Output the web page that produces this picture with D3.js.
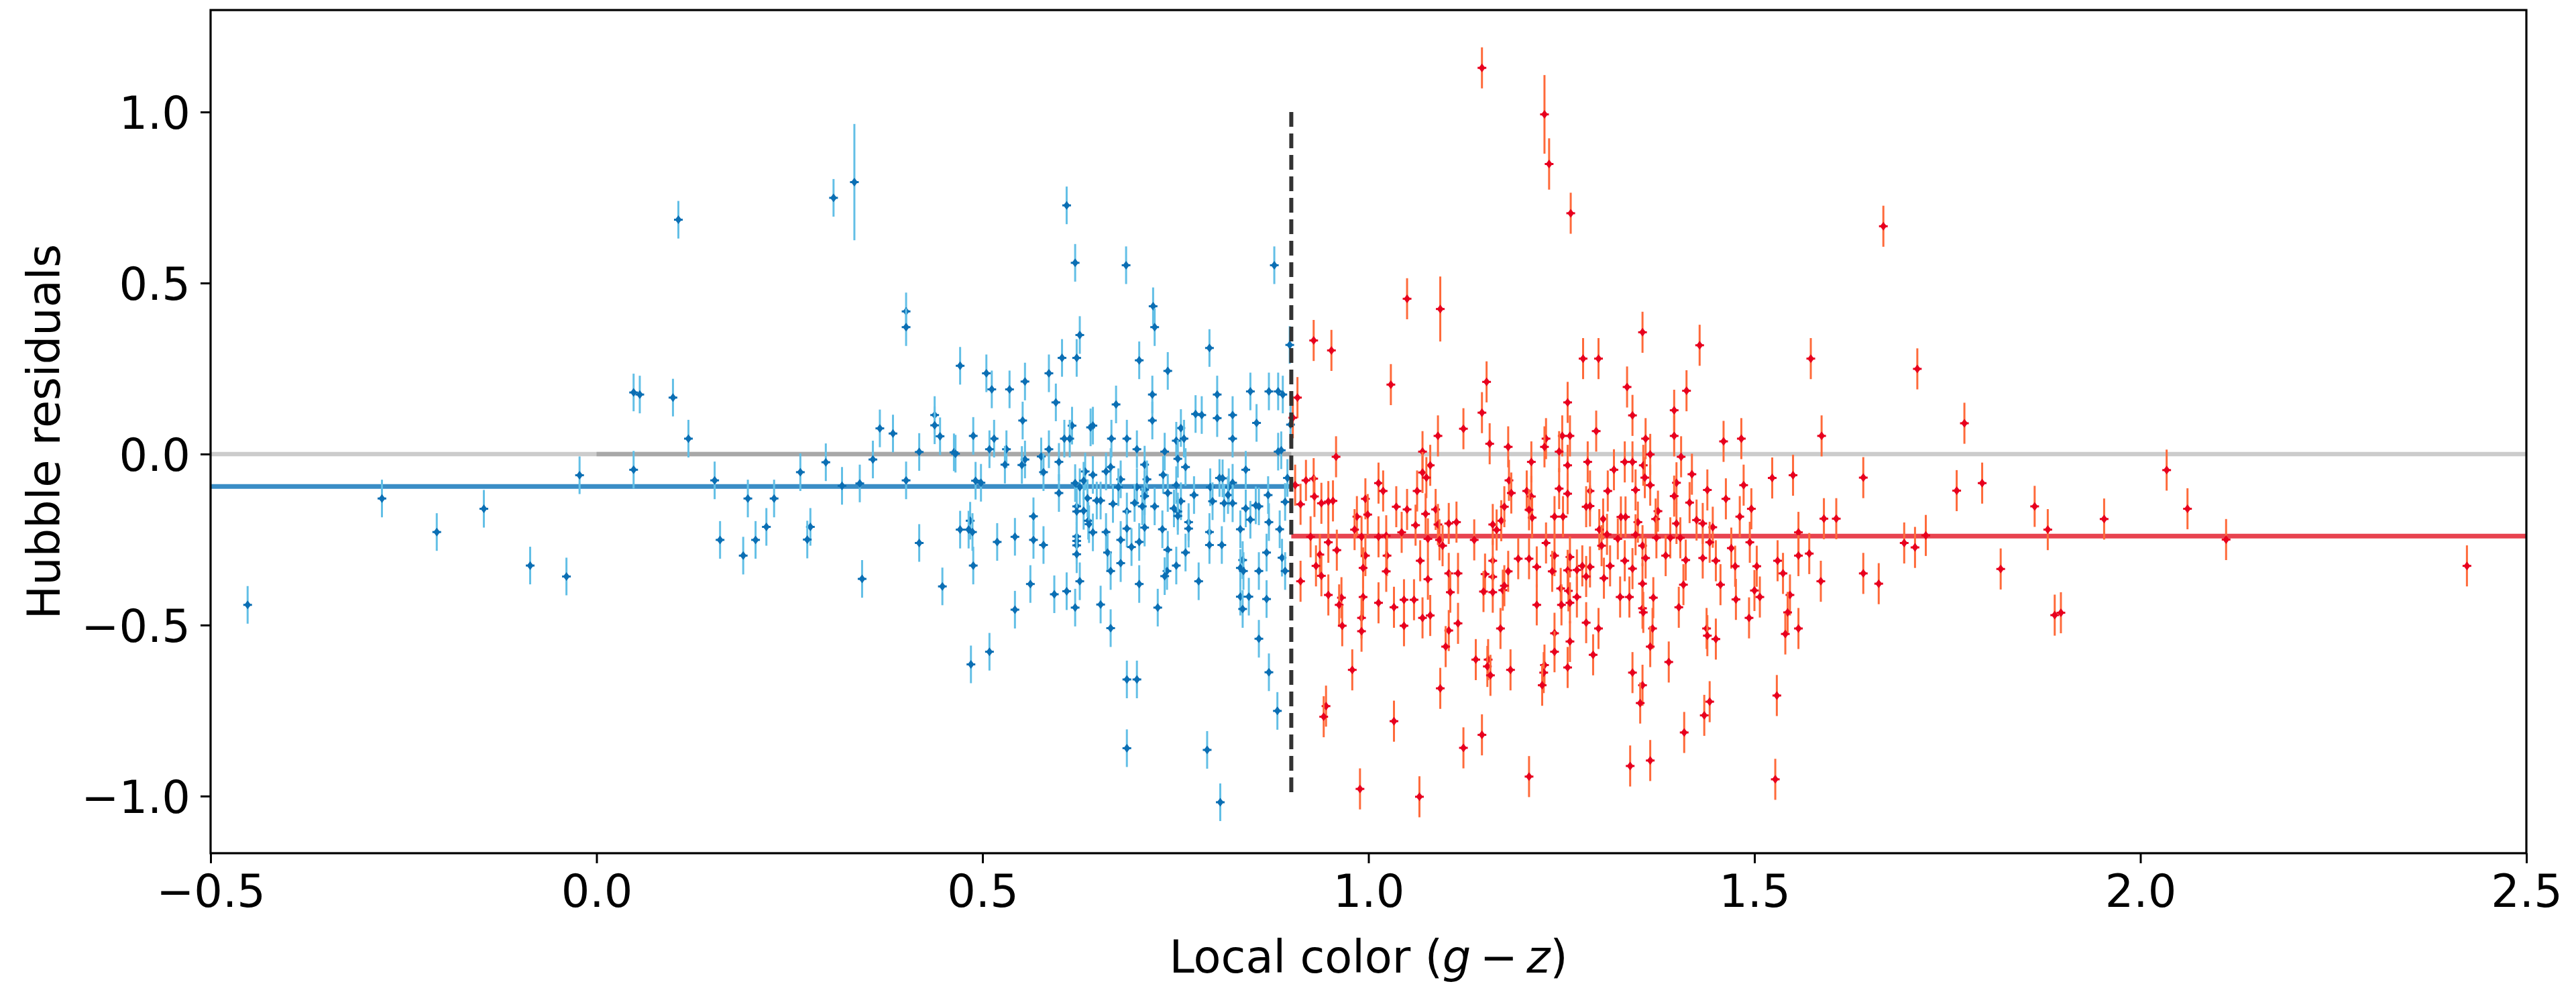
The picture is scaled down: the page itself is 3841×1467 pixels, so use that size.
<!DOCTYPE html>
<html>
<head>
<meta charset="utf-8">
<style>
  html, body { margin: 0; padding: 0; background: #fff; }
  text { font-family: "DejaVu Sans", sans-serif; fill: #000; }
</style>
</head>
<body>
<svg id="chart" width="3841" height="1467"></svg>
<script src="https://cdn.jsdelivr.net/npm/d3@7"></script>
<script>
// ---- data ----
// points are [x, y] or [x, y, yerr]
const bluePoints = [
  [-0.452,-0.441],[-0.278,-0.130],[-0.207,-0.228],[-0.146,-0.160],[-0.086,-0.326],[-0.039,-0.358],
  [-0.022,-0.062],[0.048,0.180],[0.056,0.174],[0.099,0.165],[0.119,0.045],[0.048,-0.046],
  [0.153,-0.077],[0.160,-0.251],[0.196,-0.130],[0.230,-0.130],[0.220,-0.213],[0.206,-0.251],
  [0.190,-0.297],[0.264,-0.053],[0.106,0.685],
  [0.277,-0.213],[0.273,-0.250],[0.297,-0.024],[0.318,-0.093],[0.341,-0.086],[0.358,-0.016],
  [0.344,-0.365],[0.367,0.075],[0.384,0.060],[0.401,-0.077],[0.418,0.006],[0.418,-0.260],
  [0.438,0.114],[0.438,0.084],[0.445,0.052],[0.448,-0.387],[0.463,0.005],[0.465,0.001],[0.471,-0.221],
  [0.307,0.749],[0.334,0.795,0.17],[0.609,0.727],[0.620,0.559],[0.686,0.552],[0.878,0.552],
  [0.401,0.417],[0.401,0.371],[0.721,0.432],[0.723,0.371],[0.626,0.348],[0.471,0.258],
  [0.794,0.310],[0.898,0.319],
  [0.687,-0.860],[0.791,-0.865],[0.808,-1.018],[0.882,-0.751],
  [0.505,0.236],[0.512,0.189],[0.535,0.189],[0.555,0.212],[0.603,0.281],[0.622,0.281],[0.586,0.236],
  [0.595,0.151],[0.552,0.098],[0.703,0.274],[0.740,0.243],[0.720,0.174],[0.720,0.098],[0.673,0.145],
  [0.804,0.174],[0.804,0.105],[0.847,0.183],[0.871,0.183],[0.883,0.183],[0.889,0.174],[0.824,0.114],
  [0.824,0.045],[0.855,0.091],[0.776,0.117],[0.784,0.114],[0.757,0.076],[0.761,0.045],[0.751,0.039],
  [0.899,0.086],[0.488,0.053],[0.515,0.045],[0.509,0.014],[0.531,0.014],[0.616,0.083],[0.640,0.078],
  [0.643,0.083],[0.606,0.045],[0.613,0.045],[0.667,0.045],[0.687,0.045],[0.700,0.014],[0.736,0.007],
  [0.586,0.014],[0.576,-0.007],[0.555,-0.016],[0.551,-0.032],[0.529,-0.031],[0.599,-0.023],[0.579,-0.053],
  [0.887,0.011],[0.883,0.007],[0.753,-0.014],[0.710,-0.031],[0.763,-0.038],[0.734,-0.061],[0.841,-0.046],
  [0.666,-0.038],[0.660,-0.051],[0.633,-0.051],[0.643,-0.061],[0.679,-0.074],[0.713,-0.074],[0.807,-0.070],
  [0.811,-0.071],[0.824,-0.084],[0.895,-0.070],[0.491,-0.078],[0.498,-0.084],[0.620,-0.085],[0.626,-0.097],
  [0.631,-0.078],[0.599,-0.114],[0.676,-0.097],[0.710,-0.104],[0.700,-0.097],[0.751,-0.091],[0.795,-0.097],
  [0.819,-0.097],[0.740,-0.114],[0.710,-0.123],[0.774,-0.120],[0.870,-0.120],[0.818,-0.120],[0.636,-0.129],
  [0.648,-0.136],[0.653,-0.136],[0.669,-0.146],[0.697,-0.143],[0.707,-0.153],[0.723,-0.153],[0.757,-0.138],
  [0.798,-0.138],[0.813,-0.144],[0.824,-0.144],[0.841,-0.159],[0.854,-0.150],[0.858,-0.153],[0.892,-0.140],
  [0.622,-0.153],[0.622,-0.168],[0.631,-0.166],[0.687,-0.168],[0.748,-0.159],[0.753,-0.168],[0.753,-0.181],
  [0.566,-0.182],[0.637,-0.195],[0.638,-0.205],[0.767,-0.199],[0.767,-0.218],[0.847,-0.192],[0.871,-0.199],
  [0.484,-0.195],[0.482,-0.221],[0.487,-0.228],[0.519,-0.257],[0.542,-0.242],[0.566,-0.251],[0.579,-0.266],
  [0.622,-0.241],[0.622,-0.254],[0.622,-0.267],[0.622,-0.293],[0.643,-0.229],[0.660,-0.228],[0.687,-0.218],
  [0.710,-0.215],[0.733,-0.220],[0.794,-0.228],[0.794,-0.266],[0.810,-0.266],[0.834,-0.220],[0.885,-0.220],
  [0.679,-0.251],[0.693,-0.272],[0.703,-0.257],[0.662,-0.288],[0.740,-0.280],[0.763,-0.288],[0.868,-0.288],
  [0.888,-0.303],[0.837,-0.310],[0.834,-0.333],[0.838,-0.342],[0.858,-0.342],[0.892,-0.342],[0.488,-0.326],
  [0.679,-0.319],[0.666,-0.342],[0.751,-0.326],[0.739,-0.342],[0.736,-0.357],[0.780,-0.372],[0.626,-0.372],
  [0.562,-0.380],[0.593,-0.410],[0.609,-0.401],[0.703,-0.380],[0.834,-0.417],[0.845,-0.417],[0.837,-0.453],
  [0.868,-0.424],[0.542,-0.455],[0.620,-0.449],[0.653,-0.440],[0.727,-0.449],[0.666,-0.509],[0.858,-0.540],
  [0.509,-0.578],[0.485,-0.615],[0.871,-0.638],[0.687,-0.659],[0.700,-0.659]
];

const redPoints = [
  [1.029,0.203],[1.153,0.211],[1.335,0.196],[1.412,0.185],[0.908,0.165],[0.902,0.106],[1.258,0.151],
  [1.147,0.121],[1.342,0.113],[1.396,0.128],[1.123,0.074],[1.090,0.053],[1.157,0.030],[1.181,0.021],
  [1.230,0.045],[1.251,0.053],[1.261,0.053],[1.295,0.067],[1.359,0.045],[1.396,0.053],[1.460,0.037],
  [1.483,0.045],[1.587,0.053],[0.958,-0.008],[1.070,0.007],[1.080,-0.033],[1.070,-0.054],[1.075,-0.069],
  [1.211,-0.023],[1.228,0.021],[1.247,0.007],[1.258,-0.033],[1.284,-0.023],[1.332,-0.023],[1.342,-0.023],
  [1.356,-0.033],[1.365,-0.001],[1.405,-0.008],[1.318,-0.046],[1.358,-0.069],[1.182,-0.077],[1.419,-0.059],
  [1.523,-0.070],[1.550,-0.062],[0.905,-0.091],[0.919,-0.077],[0.929,-0.072],[1.013,-0.085],[1.019,-0.108],
  [1.063,-0.108],[1.185,-0.114],[1.205,-0.108],[1.211,-0.124],[1.247,-0.101],[1.258,-0.116],[1.287,-0.108],
  [1.310,-0.108],[1.346,-0.105],[1.365,-0.091],[1.399,-0.084],[1.396,-0.123],[1.439,-0.105],[1.486,-0.091],
  [1.463,-0.131],[0.930,-0.124],[0.939,-0.144],[0.948,-0.139],[0.954,-0.137],[0.912,-0.147],[0.996,-0.131],
  [0.985,-0.183],[0.999,-0.177],[1.036,-0.154],[1.050,-0.162],[1.061,-0.208],[1.074,-0.175],[1.087,-0.162],
  [1.090,-0.206],[1.104,-0.203],[1.114,-0.199],[1.161,-0.206],[1.172,-0.195],[1.176,-0.154],[1.212,-0.186],
  [1.208,-0.163],[1.241,-0.183],[1.252,-0.183],[1.282,-0.154],[1.287,-0.152],[1.304,-0.190],[1.327,-0.184],
  [1.333,-0.184],[1.349,-0.199],[1.375,-0.167],[1.372,-0.190],[1.399,-0.203],[1.416,-0.142],[1.425,-0.193],
  [1.433,-0.203],[1.481,-0.183],[1.496,-0.160],[1.446,-0.214],[1.557,-0.229],[1.590,-0.189],[1.606,-0.189],
  [0.982,-0.221],[0.991,-0.242],[1.013,-0.242],[1.023,-0.239],[1.043,-0.229],[1.077,-0.248],[1.092,-0.251],
  [1.137,-0.251],[1.166,-0.222],[1.299,-0.221],[1.309,-0.235],[1.323,-0.248],[1.346,-0.236],[1.373,-0.245],
  [1.391,-0.245],[1.404,-0.245],[0.948,-0.258],[0.959,-0.281],[1.096,-0.268],[1.230,-0.260],[1.302,-0.268],
  [1.355,-0.268],[1.442,-0.258],[1.470,-0.275],[1.494,-0.258],[1.571,-0.291],[1.557,-0.297],[0.925,-0.242],
  [0.937,-0.294],[0.932,-0.327],[0.939,-0.356],[0.912,-0.372],[0.996,-0.297],[0.993,-0.333],[1.024,-0.297],
  [1.023,-0.343],[1.067,-0.312],[1.077,-0.366],[1.104,-0.349],[1.116,-0.349],[1.161,-0.312],[1.151,-0.351],
  [1.161,-0.359],[1.181,-0.343],[1.194,-0.306],[1.208,-0.306],[1.218,-0.330],[1.241,-0.297],[1.238,-0.343],
  [1.261,-0.301],[1.258,-0.340],[1.270,-0.339],[1.277,-0.327],[1.287,-0.330],[1.282,-0.358],[1.305,-0.363],
  [1.313,-0.327],[1.332,-0.312],[1.342,-0.335],[1.359,-0.304],[1.385,-0.297],[1.411,-0.310],[1.433,-0.304],
  [1.450,-0.312],[1.475,-0.328],[1.503,-0.328],[1.530,-0.312],[1.537,-0.349],[1.586,-0.372],[1.456,-0.382],
  [1.408,-0.382],[0.948,-0.412],[0.965,-0.420],[0.962,-0.441],[0.993,-0.418],[1.013,-0.435],[1.033,-0.448],
  [1.046,-0.426],[1.059,-0.426],[1.106,-0.404],[1.149,-0.402],[1.161,-0.404],[1.174,-0.398],[1.176,-0.385],
  [1.218,-0.441],[1.249,-0.393],[1.259,-0.400],[1.270,-0.418],[1.250,-0.441],[1.261,-0.435],[1.326,-0.418],
  [1.338,-0.418],[1.355,-0.379],[1.369,-0.420],[1.355,-0.451],[1.356,-0.463],[1.402,-0.448],[1.476,-0.425],
  [1.500,-0.399],[1.507,-0.418],[1.546,-0.412],[1.543,-0.463],[0.966,-0.502],[0.991,-0.479],[0.991,-0.518],
  [1.046,-0.502],[1.070,-0.479],[1.080,-0.472],[1.104,-0.516],[1.116,-0.495],[1.171,-0.510],[1.282,-0.493],
  [1.298,-0.510],[1.368,-0.510],[1.493,-0.479],[1.557,-0.510],[1.540,-0.526],[1.438,-0.510],[1.439,-0.531],
  [1.450,-0.541],[1.100,-0.563],[1.241,-0.524],[1.261,-0.548],[1.241,-0.578],[1.291,-0.587],[1.365,-0.563],
  [1.389,-0.608],[0.979,-0.631],[1.139,-0.601],[1.155,-0.601],[1.154,-0.621],[1.158,-0.647],[1.184,-0.631],
  [1.228,-0.617],[1.227,-0.639],[1.225,-0.676],[1.258,-0.624],[1.342,-0.639],[1.355,-0.676],[1.093,-0.685],
  [1.529,-0.706],[0.945,-0.737],[0.942,-0.768],[1.352,-0.728],[1.442,-0.724],[1.435,-0.764],[1.033,-0.781],
  [0.989,-0.979],[1.066,-1.002],[1.123,-0.859],[1.147,-0.821],[1.208,-0.943],[1.339,-0.912],[1.365,-0.896],
  [1.527,-0.951],[1.409,-0.814],
  [0.929,0.332],[0.952,0.303],
  [1.147,1.129],[1.228,0.993,0.115],[1.234,0.848,0.075],[1.262,0.704],[1.667,0.666],[1.050,0.454],
  [1.093,0.424,0.095],[1.278,0.279],[1.298,0.279],[1.355,0.356],[1.429,0.318],[1.573,0.279],[1.711,0.249],
  [1.641,-0.069],[1.641,-0.349],[1.661,-0.379],[1.694,-0.260],[1.708,-0.273],[1.722,-0.238],
  [1.772,0.090],[1.762,-0.107],[1.795,-0.085],[1.819,-0.336],[1.863,-0.153],[1.880,-0.221],[1.889,-0.471],
  [1.897,-0.464],[1.953,-0.190],[2.034,-0.047],[2.061,-0.160],[2.111,-0.250],[2.423,-0.327]
];

const blueErr = 0.055, redErr = 0.06;   // typical error bar half length
const colorSplit = 0.9;                  // dashed divider
const blueMean = -0.095, redMean = -0.24;
const xTicks = [-0.5, 0.0, 0.5, 1.0, 1.5, 2.0, 2.5];
const yTicks = [-1.0, -0.5, 0.0, 0.5, 1.0];

// ---- layout ----
const W = 3841, H = 1467;
const mLeft = 314, mRight = 3767, mTop = 15, mBottom = 1272;
const fs = 67;

const svg = d3.select("#chart");
svg.append("rect").attr("width", W).attr("height", H).attr("fill", "#fff");

const x = d3.scaleLinear().domain([-0.5, 2.5]).range([mLeft, mRight]);
const y = d3.scaleLinear().domain([-1.167, 1.298]).range([mBottom, mTop]);

const plot = svg.append("g");

// reference lines
plot.append("line")
  .attr("x1", x(-0.5)).attr("x2", x(2.5)).attr("y1", y(0)).attr("y2", y(0))
  .attr("stroke", "#cccccc").attr("stroke-width", 6.5);
plot.append("line")
  .attr("x1", x(0)).attr("x2", x(colorSplit)).attr("y1", y(0)).attr("y2", y(0))
  .attr("stroke", "#a8a8a8").attr("stroke-width", 6.5);
plot.append("line")
  .attr("x1", x(-0.5)).attr("x2", x(colorSplit)).attr("y1", y(blueMean)).attr("y2", y(blueMean))
  .attr("stroke", "#3a8dc6").attr("stroke-width", 7);
plot.append("line")
  .attr("x1", x(colorSplit)).attr("x2", x(2.5)).attr("y1", y(redMean)).attr("y2", y(redMean))
  .attr("stroke", "#e8434f").attr("stroke-width", 7);

function drawSeries(pts, defErr, errColor, markColor) {
  const g = plot.append("g");
  const p = g.selectAll("g").data(pts).join("g")
    .attr("transform", d => `translate(${x(d[0])},${y(d[1])})`);
  p.append("line")
    .attr("x1", 0).attr("x2", 0)
    .attr("y1", d => y(d[1] + (d[2] || defErr)) - y(d[1]))
    .attr("y2", d => y(d[1] - (d[2] || defErr)) - y(d[1]))
    .attr("stroke", errColor).attr("stroke-width", 3);
  p.append("line")
    .attr("x1", -6.5).attr("x2", 6.5).attr("y1", 0).attr("y2", 0)
    .attr("stroke", markColor).attr("stroke-width", 3);
  p.append("path")
    .attr("d", "M0,-6.5L5,0L0,6.5L-5,0Z")
    .attr("fill", markColor);
}

drawSeries(bluePoints, blueErr, "#62bfe6", "#0b6fb4");
drawSeries(redPoints, redErr, "#ff6a3a", "#e8001e");

// dashed divider
plot.append("line")
  .attr("x1", x(colorSplit)).attr("x2", x(colorSplit)).attr("y1", y(1.0)).attr("y2", y(-1.0))
  .attr("stroke", "#333").attr("stroke-width", 6).attr("stroke-dasharray", "22,10");

// frame
svg.append("rect")
  .attr("x", mLeft).attr("y", mTop).attr("width", mRight - mLeft).attr("height", mBottom - mTop)
  .attr("fill", "none").attr("stroke", "#000").attr("stroke-width", 3.2);

const fmt = v => d3.format(".1f")(v).replace("-", "\u2212");

// x axis
const xAxis = d3.axisBottom(x).tickValues(xTicks).tickFormat(fmt).tickSize(15).tickPadding(15);
const gx = svg.append("g").attr("transform", `translate(0,${mBottom})`).call(xAxis);
gx.select(".domain").remove();
gx.selectAll(".tick line").attr("stroke", "#000").attr("stroke-width", 3);
gx.selectAll(".tick text").attr("font-size", fs).attr("font-family", "DejaVu Sans")
  .attr("dy", null).attr("y", 80).attr("fill", "#000");

// y axis
const yAxis = d3.axisLeft(y).tickValues(yTicks).tickFormat(fmt).tickSize(15).tickPadding(15);
const gy = svg.append("g").attr("transform", `translate(${mLeft},0)`).call(yAxis);
gy.select(".domain").remove();
gy.selectAll(".tick line").attr("stroke", "#000").attr("stroke-width", 3);
gy.selectAll(".tick text").attr("font-size", fs).attr("font-family", "DejaVu Sans")
  .attr("dy", "0.37em").attr("x", -30).attr("fill", "#000");

// axis labels
const xl = svg.append("text")
  .attr("x", (mLeft + mRight) / 2).attr("y", 1450)
  .attr("text-anchor", "middle").attr("font-size", fs);
xl.append("tspan").text("Local color (");
xl.append("tspan").attr("font-style", "italic").text("g");
xl.append("tspan").text("\u2009\u2212\u2009");
xl.append("tspan").attr("font-style", "italic").text("z");
xl.append("tspan").text(")");

svg.append("text")
  .attr("transform", `translate(89,${(mTop + mBottom) / 2}) rotate(-90)`)
  .attr("text-anchor", "middle").attr("font-size", fs)
  .text("Hubble residuals");
</script>
</body>
</html>
